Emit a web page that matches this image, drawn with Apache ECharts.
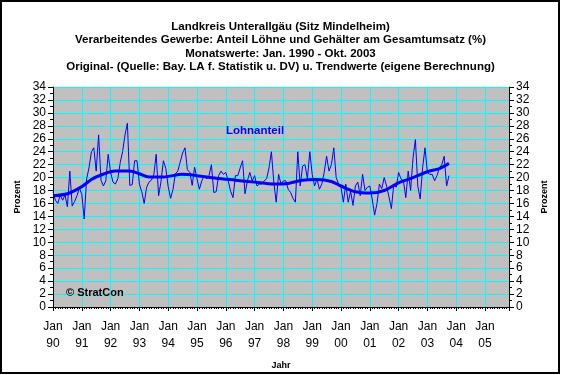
<!DOCTYPE html>
<html>
<head>
<meta charset="utf-8">
<script src="https://cdn.jsdelivr.net/npm/echarts@6/dist/echarts.min.js"></script>
<style>
  html, body { margin: 0; padding: 0; background: #fff; }
  #chart { width: 561px; height: 375px; }
</style>
</head>
<body>
<div id="chart"></div>
<script>
// Monatswerte Lohnanteil (%), Jan 1990 - Okt 2003
var y1990 = [17.8, 16.5, 16.0, 17.3, 16.5, 17.3, 15.5, 21.0, 15.6, 16.3, 17.2, 18.4];
var y1991 = [17.4, 13.6, 19.8, 21.5, 24.0, 24.6, 21.0, 26.6, 19.6, 18.7, 19.5, 23.6];
var y1992 = [20.8, 19.3, 19.0, 19.8, 22.3, 24.0, 26.6, 28.4, 18.8, 18.9, 22.6, 22.6];
var y1993 = [19.0, 17.8, 16.0, 18.5, 19.3, 19.6, 20.4, 23.6, 17.2, 19.4, 22.6, 21.4];
var y1994 = [18.6, 16.8, 18.2, 20.6, 21.0, 22.4, 23.8, 24.6, 21.2, 20.8, 18.8, 21.6];
var y1995 = [19.8, 18.2, 19.5, 20.3, 19.8, 20.3, 22.0, 17.7, 17.8, 20.3, 21.0, 20.5];
var y1996 = [20.8, 19.5, 17.9, 16.9, 20.3, 20.3, 21.5, 22.6, 17.5, 19.5, 20.8, 19.5];
var y1997 = [20.3, 18.7, 19.0, 19.0, 19.5, 19.8, 21.5, 24.0, 19.3, 16.2, 20.5, 19.0];
var y1998 = [19.5, 19.5, 18.2, 17.7, 16.8, 16.2, 24.0, 18.7, 21.8, 22.0, 19.8, 24.0];
var y1999 = [20.5, 18.7, 19.8, 18.2, 19.0, 20.8, 23.3, 21.0, 22.0, 24.6, 20.0, 19.0];
var y2000 = [18.5, 16.2, 19.0, 16.2, 17.9, 15.7, 18.7, 19.3, 17.2, 20.5, 18.0, 18.5];
var y2001 = [18.7, 16.7, 14.2, 16.0, 19.0, 18.3, 20.0, 18.7, 17.0, 15.2, 19.0, 18.5];
var y2002 = [20.8, 19.8, 19.5, 16.9, 21.0, 18.0, 23.0, 25.9, 18.7, 16.7, 21.5, 24.6];
var y2003 = [20.8, 20.5, 20.5, 19.5, 20.3, 21.5, 22.0, 23.3, 18.7, 20.3];

// Trendwerte (Monatsindex ab Jan 1990, Wert)
var trend = [
  [0, 17.2], [6, 17.5], [12, 18.6], [16, 19.7], [20, 20.4], [26, 21.0],
  [32, 21.0], [36, 20.6], [40, 20.1], [46, 20.1], [54, 20.5], [60, 20.3],
  [68, 19.9], [76, 19.6], [84, 19.3], [92, 19.0], [98, 19.1], [104, 19.6],
  [110, 19.7], [116, 19.4], [120, 18.7], [126, 17.8], [132, 17.6], [138, 18.0],
  [144, 19.2], [150, 20.0], [156, 20.9], [161, 21.4], [165, 22.2]
];

var yearLabels = ['90', '91', '92', '93', '94', '95', '96', '97', '98', '99', '00', '01', '02', '03', '04', '05'];

var titleLines = [
  'Landkreis Unterallgäu (Sitz Mindelheim)',
  'Verarbeitendes Gewerbe: Anteil Löhne und Gehälter am Gesamtumsatz (%)',
  'Monatswerte: Jan. 1990 - Okt. 2003',
  'Original- (Quelle: Bay. LA f. Statistik u. DV) u. Trendwerte (eigene Berechnung)'
];

var monthly = [].concat(y1990, y1991, y1992, y1993, y1994, y1995, y1996,
  y1997, y1998, y1999, y2000, y2001, y2002, y2003);

var FONT = '"Liberation Sans", Arial, sans-serif';
var chart = echarts.init(document.getElementById('chart'));

function yAxisDef(pos) {
  return {
    type: 'value', position: pos, min: 0, max: 34, interval: 2,
    name: 'Prozent', nameLocation: 'middle', nameRotate: 90,
    nameGap: pos === 'left' ? 27 : 23,
    nameTextStyle: { fontFamily: FONT, fontSize: 9, fontWeight: 'bold', color: '#000' },
    axisLine: { show: true, lineStyle: { color: '#000', width: 1 } },
    axisTick: { show: true, length: 5, lineStyle: { color: '#000' } },
    minorTick: { show: true, splitNumber: 2, length: 3, lineStyle: { color: '#000' } },
    axisLabel: { fontFamily: FONT, fontSize: 12, color: '#000', margin: 7 },
    splitLine: { show: pos === 'left', lineStyle: { color: '#00FFFF', width: 1 } }
  };
}

chart.setOption({
  animation: false,
  backgroundColor: '#fff',
  title: {
    text: titleLines.join('\n'),
    left: 'center', top: 15,
    textStyle: { fontFamily: FONT, fontSize: 11.5, fontWeight: 'bold', color: '#000', lineHeight: 13.5 }
  },
  grid: {
    left: 53, right: 52, top: 87, bottom: 66,
    show: true, backgroundColor: '#C0C0C0', borderWidth: 0
  },
  xAxis: {
    type: 'value', min: 0, max: 190, interval: 12,
    name: 'Jahr', nameLocation: 'middle', nameGap: 54,
    nameTextStyle: { fontFamily: FONT, fontSize: 9, fontWeight: 'bold', color: '#000' },
    axisLine: { show: true, onZero: false, lineStyle: { color: '#000', width: 1 } },
    axisTick: { show: true, length: 4, lineStyle: { color: '#000' } },
    minorTick: { show: true, splitNumber: 12, length: 2, lineStyle: { color: '#000' } },
    axisLabel: {
      fontFamily: FONT, fontSize: 12, color: '#000', margin: 11, lineHeight: 17,
      showMaxLabel: false,
      formatter: function (v) {
        if (v % 12 !== 0) return '';
        return 'Jan\n' + yearLabels[v / 12];
      }
    },
    splitLine: { show: true, lineStyle: { color: '#00FFFF', width: 1 } }
  },
  yAxis: [yAxisDef('left'), yAxisDef('right')],
  series: [
    {
      type: 'line', name: 'Lohnanteil',
      data: monthly.map(function (v, i) { return [i, v]; }),
      showSymbol: false, symbol: 'none',
      lineStyle: { color: '#0000FF', width: 1 }
    },
    {
      type: 'line', name: 'Trend',
      data: trend, smooth: 0.3,
      showSymbol: false, symbol: 'none',
      lineStyle: { color: '#0000FF', width: 3 }
    }
  ],
  graphic: [
    {
      type: 'rect', silent: true, z: 100,
      shape: { x: 1, y: 1, width: 558, height: 372 },
      style: { fill: 'none', stroke: '#000', lineWidth: 2 }
    },
    {
      type: 'text', left: 226, top: 125, z: 100,
      style: { text: 'Lohnanteil', fill: '#0000FF', font: 'bold 11.5px ' + FONT }
    },
    {
      type: 'text', left: 66, top: 287, z: 100,
      style: { text: '© StratCon', fill: '#000', font: 'bold 11px ' + FONT }
    }
  ]
});
</script>
</body>
</html>
